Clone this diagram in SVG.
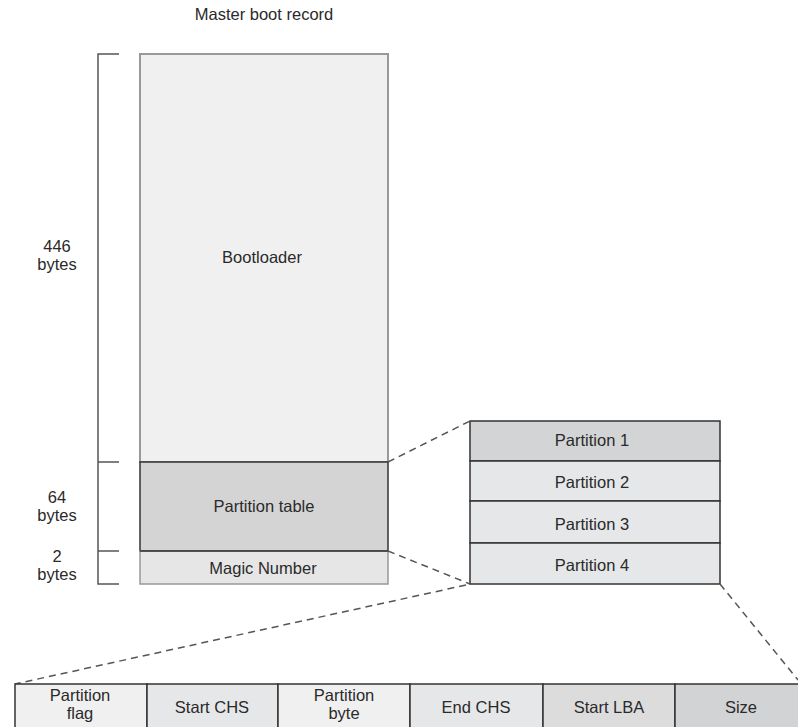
<svg xmlns="http://www.w3.org/2000/svg" width="798" height="727" viewBox="0 0 798 727">
<style>
text{font-family:"Liberation Sans",Arial,sans-serif;font-size:16.5px;fill:#2a2a2a;text-anchor:middle}
.box{stroke:#333;stroke-width:1.5}
.lt{fill:#f0f0f0}
.md{fill:#e6e7e8}
.dk{fill:#d3d4d5}
.dash{fill:none;stroke:#555;stroke-width:1.5;stroke-dasharray:7,5}
.br{fill:none;stroke:#555;stroke-width:1.5}
</style>
<rect width="798" height="727" fill="#fff"/>
<text x="264" y="20">Master boot record</text>
<g id="bracket">
<path class="br" d="M119,54 H98 V584 H119 M98,462 H119 M98,551 H119"/>
<text x="57" y="252">446</text><text x="57" y="270">bytes</text>
<text x="57" y="503">64</text><text x="57" y="521">bytes</text>
<text x="57" y="562">2</text><text x="57" y="580">bytes</text>
</g>
<g id="bootloader"><rect class="lt" x="140" y="54" width="248" height="408" stroke="#999" stroke-width="2"/><text x="262" y="263">Bootloader</text></g>
<g id="partition-table"><rect class="box" x="140" y="462" width="248" height="89" fill="#d4d4d4"/><text x="264" y="512">Partition table</text></g>
<g id="magic"><rect x="140" y="551" width="248" height="33" fill="#e6e6e6" stroke="#999" stroke-width="1.5"/><line x1="140" y1="551" x2="388" y2="551" stroke="#333" stroke-width="1.5"/><text x="263" y="574">Magic Number</text></g>
<g id="partition1"><rect class="box dk" x="470" y="421" width="250" height="40"/><text x="592" y="446">Partition 1</text></g>
<g id="partition2"><rect class="box md" x="470" y="461" width="250" height="40"/><text x="592" y="488">Partition 2</text></g>
<g id="partition3"><rect class="box md" x="470" y="501" width="250" height="42"/><text x="592" y="530">Partition 3</text></g>
<g id="partition4"><rect class="box md" x="470" y="543" width="250" height="41"/><text x="592" y="571">Partition 4</text></g>
<g id="connectors">
<line class="dash" x1="388" y1="462" x2="470" y2="421"/>
<line class="dash" x1="388" y1="551" x2="470" y2="584"/>
<line class="dash" x1="466" y1="585" x2="15" y2="684"/>
<line class="dash" x1="720" y1="584" x2="798" y2="680"/>
</g>
<g id="cell-flag"><rect class="box lt" x="15" y="684" width="132" height="50"/><text x="80" y="701">Partition</text><text x="80" y="719">flag</text></g>
<g id="cell-startchs"><rect class="box md" x="147" y="684" width="131" height="50"/><text x="212" y="713">Start CHS</text></g>
<g id="cell-ptype"><rect class="box lt" x="278" y="684" width="132" height="50"/><text x="344" y="701">Partition</text><text x="344" y="719">byte</text></g>
<g id="cell-endchs"><rect class="box md" x="410" y="684" width="133" height="50"/><text x="476" y="713">End CHS</text></g>
<g id="cell-startlba"><rect class="box" x="543" y="684" width="132" height="50" fill="#dcdcdd"/><text x="609" y="713">Start LBA</text></g>
<g id="cell-size"><rect class="box" x="675" y="684" width="132" height="50" fill="#d2d3d5"/><text x="741" y="713">Size</text></g>
</svg>
